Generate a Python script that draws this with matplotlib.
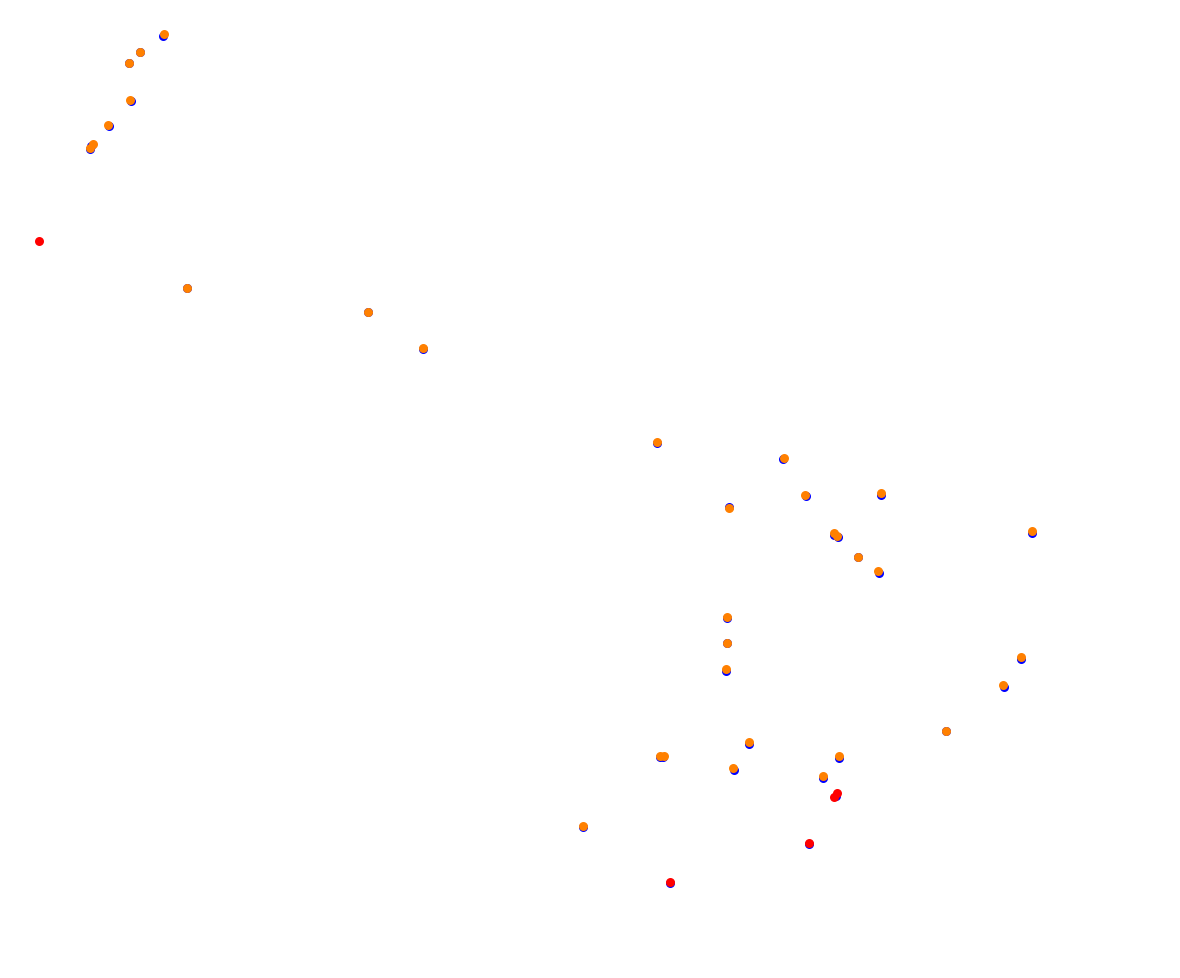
import numpy as np
import matplotlib.pyplot as plt

# points (pixel-like units, y grows downward)
blue_x = [163, 140, 129, 131, 109, 91, 90, 187, 368, 423, 657, 783, 806, 881, 729,
          834, 838, 858, 879, 1032, 727, 727, 726, 660, 663, 749, 734, 839, 823,
          836, 809, 670, 583, 946, 1021, 1004]
blue_y = [37, 53, 64, 102, 127, 147, 150, 289, 313, 350, 444, 460, 497, 496, 508,
          536, 538, 558, 574, 534, 619, 644, 672, 758, 758, 745, 771, 759, 779,
          797, 845, 884, 828, 732, 660, 688]

orange_x = [164, 140, 129, 130, 108, 93, 90, 187, 368, 423, 657, 784, 805, 881, 729,
            834, 837, 858, 878, 1032, 727, 727, 726, 660, 664, 749, 733, 839, 823,
            583, 946, 1021, 1003]
orange_y = [35, 53, 64, 101, 126, 145, 149, 289, 313, 349, 443, 459, 496, 494, 509,
            534, 537, 558, 572, 532, 618, 644, 670, 757, 757, 743, 769, 757, 777,
            827, 732, 658, 686]

red_x = [39, 837, 834, 809, 670]
red_y = [242, 794, 798, 844, 883]

fig = plt.figure(figsize=(11.8, 9.79), dpi=100, facecolor='white')
ax = fig.add_axes([0, 0, 1, 1])
ax.set_xlim(0, 1180)
ax.set_ylim(979.5, -0.5)
ax.axis('off')

ax.scatter(blue_x, blue_y, s=42, c='#0000ff', linewidths=0)
ax.scatter(orange_x, orange_y, s=42, c='#ff8000', linewidths=0)
ax.scatter(red_x, red_y, s=42, c='#ff0000', linewidths=0)

fig.savefig('out.png', dpi=100, facecolor='white')
